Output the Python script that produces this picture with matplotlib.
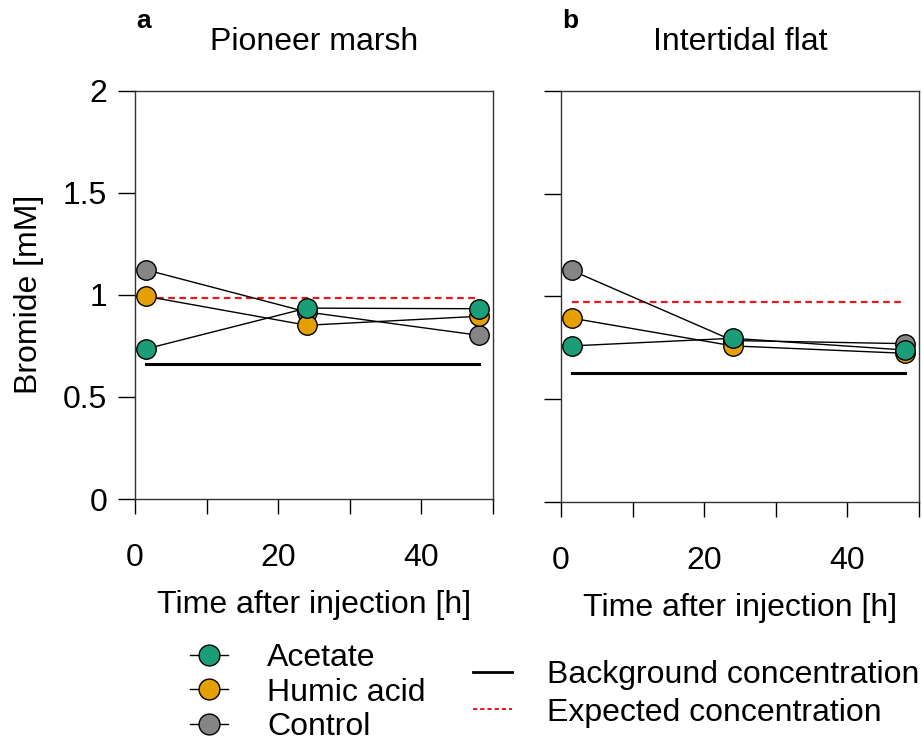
import numpy as np
import matplotlib
matplotlib.use('Agg')
import matplotlib.pyplot as plt
from matplotlib.lines import Line2D

plt.rcParams['font.family'] = ['Liberation Sans', 'DejaVu Sans']

# sampling times after injection [h]
time_h = [1.5, 24, 48]

# bromide [mM], pioneer marsh
marsh_acetate = [0.735, 0.935, 0.932]
marsh_humic = [0.993, 0.851, 0.895]
marsh_control = [1.123, 0.916, 0.802]
marsh_background = 0.660
marsh_expected = 0.986

# bromide [mM], intertidal flat
flat_acetate = [0.759, 0.796, 0.739]
flat_humic = [0.894, 0.759, 0.723]
flat_control = [1.126, 0.785, 0.770]
flat_background = 0.628
flat_expected = 0.972

treatments = ['Acetate', 'Humic acid', 'Control']
colors = {'Acetate': '#1b9e77', 'Humic acid': '#e69f00', 'Control': '#858585'}

FS = 23

fig = plt.figure(figsize=(9.23, 7.44), dpi=100)
ax1 = fig.add_axes([0.1463, 0.3293, 0.3879, 0.5488])
ax2 = fig.add_axes([0.6078, 0.3253, 0.3879, 0.5528])


def draw_panel(ax, series, background, expected, title, letter, ylabels=True):
    ax.plot([time_h[0], time_h[-1]], [background, background], color='black', lw=2.2, zorder=1)
    ax.plot([time_h[0], time_h[-1]], [expected, expected], color='#e8171f', lw=1.6,
            linestyle=(0, (3, 2)), zorder=1)
    for name in ['Control', 'Humic acid', 'Acetate']:
        ax.plot(time_h, series[name], color='black', lw=1, marker='o', ms=14,
                mfc=colors[name], mec='black', mew=1, zorder=3)
    ax.set_xlim(0, 50)
    ax.set_ylim(0, 2)
    ax.set_xticks(np.arange(0, 51, 10))
    ax.set_xticklabels(['0', '', '20', '', '40', ''])
    ax.set_yticks([0, 0.5, 1, 1.5, 2])
    if ylabels:
        ax.set_yticklabels(['0', '0.5', '1', '1.5', '2'])
    else:
        ax.set_yticklabels([])
    ax.tick_params(axis='x', direction='out', length=11, width=1, pad=20.5, labelsize=FS)
    ax.tick_params(axis='y', direction='out', length=12, width=1, pad=8, labelsize=FS)
    for sp in ax.spines.values():
        sp.set_linewidth(1)
        sp.set_color('#333333')
    ax.set_xlabel('Time after injection [h]', fontsize=FS, labelpad=12.5)
    ax.set_title(title, fontsize=FS, pad=29.5)
    ax.text(0.025, 1.17, letter, transform=ax.transAxes, fontsize=19,
            fontweight='bold', ha='center', va='center')


draw_panel(ax1, {'Acetate': marsh_acetate, 'Humic acid': marsh_humic, 'Control': marsh_control},
           marsh_background, marsh_expected, 'Pioneer marsh', 'a')
draw_panel(ax2, {'Acetate': flat_acetate, 'Humic acid': flat_humic, 'Control': flat_control},
           flat_background, flat_expected, 'Intertidal flat', 'b', ylabels=False)
ax1.set_ylabel('Bromide [mM]', fontsize=FS, labelpad=13.5)

# legends below the panels
trt_handles = [Line2D([], [], color='black', lw=1, marker='o', ms=15, mfc=colors[t],
                      mec='black', mew=1) for t in treatments]
fig.legend(trt_handles, treatments, loc='upper left', bbox_to_anchor=(0.206, 0.136),
           frameon=False, fontsize=FS, handlelength=1.19, handletextpad=1.22,
           labelspacing=0.15, borderpad=0, borderaxespad=0)

ref_handles = [Line2D([], [], color='black', lw=2),
               Line2D([], [], color='#e8171f', lw=1.4, linestyle=(0, (2.2, 1.5)))]
fig.legend(ref_handles, ['Background concentration', 'Expected concentration'],
           loc='upper left', bbox_to_anchor=(0.513, 0.113),
           frameon=False, fontsize=FS, handlelength=1.19, handletextpad=1.12,
           labelspacing=0.24, borderpad=0, borderaxespad=0)

fig.savefig('out.png', dpi=100)
